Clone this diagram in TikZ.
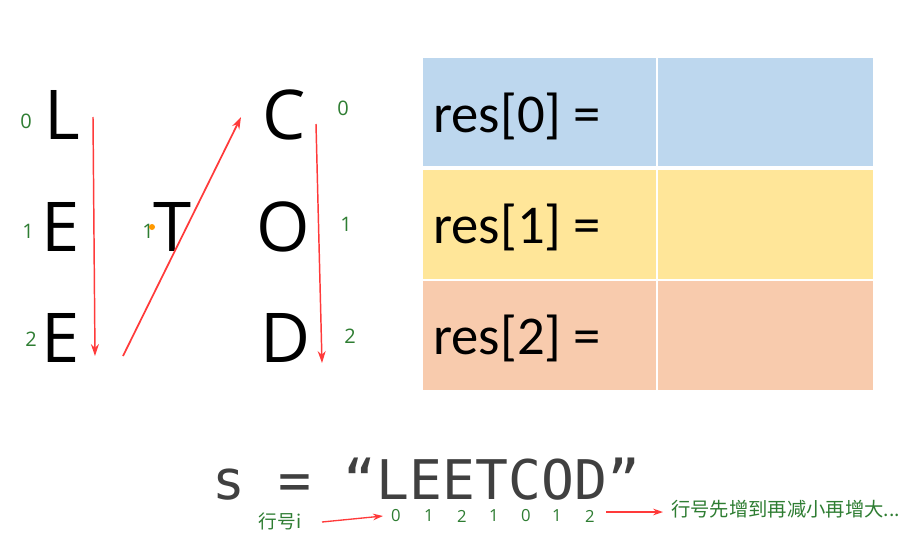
\documentclass[tikz,border=0pt]{standalone}
\usepackage{fontspec}
\setmainfont{Open Sans}
\newfontfamily\calib{Carlito}
\newfontfamily\monof{DejaVu Sans Mono}
\newfontfamily\cjk{Noto Sans CJK SC}
\usetikzlibrary{arrows.meta}
\definecolor{gidx}{RGB}{46,125,50}
\definecolor{redarr}{RGB}{255,58,58}
\definecolor{cblue}{HTML}{BDD7EE}
\definecolor{cyellow}{HTML}{FFE699}
\definecolor{corange}{HTML}{F8CBAD}
\definecolor{graytxt}{RGB}{64,64,64}
\tikzset{
  letter/.style={inner sep=0pt, anchor=base, font=\fontsize{51.5pt}{52pt}\selectfont},
  idx/.style={inner sep=0pt, text=gidx, font=\fontsize{15pt}{16pt}\selectfont},
  small idx/.style={inner sep=0pt, text=gidx, font=\fontsize{12.5pt}{13pt}\selectfont},
  cjktext/.style={inner sep=0pt, text=gidx},
  redline/.style={draw=redarr, line width=1.3pt, -{Stealth[length=9pt,width=6pt]}},
  thinred/.style={draw=redarr, line width=1pt, -{Stealth[length=7.5pt,width=5pt]}},
  reslabel/.style={inner sep=0pt, anchor=base west, font=\calib\fontsize{41pt}{42pt}\selectfont}
}
\begin{document}
\begin{tikzpicture}[x=0.75pt, y=-0.75pt]
\useasboundingbox (0,0) rectangle (922,553);
\fill[white] (0,0) rectangle (922,553);

% zigzag letters
\node[letter] (L)  at (62,139) {L};
\node[letter] (E1) at (61,251) {E};
\node[letter] (E2) at (61,362) {E};
\node[letter] (T)  at (172,251) {T};
\node[letter] (C)  at (284,139) {C};
\node[letter] (O)  at (283,251) {O};
\node[letter] (D)  at (286,362) {D};

% row indices
\node[idx] (i0a) at (26,121) {0};
\node[idx] (i1a) at (28,231) {1};
\node[idx] (i2a) at (31,339) {2};
\node[idx] (i1b) at (148,231) {1};
\fill[orange!80!yellow] (152,227) circle (3);
\node[idx] (i0c) at (343,108) {0};
\node[idx] (i1c) at (346,224) {1};
\node[idx] (i2c) at (350,336) {2};

% arrows
\coordinate (a1s) at (93,117);
\coordinate (a1e) at (95,356);
\coordinate (a2s) at (123,356);
\coordinate (a2e) at (241,117);
\coordinate (a3s) at (316,124);
\coordinate (a3e) at (322,363);
\draw[redline, line width=1.1pt] (a1s) -- (a1e);
\draw[redline] (a2s) -- (a2e);
\draw[redline, line width=1.1pt] (a3s) -- (a3e);

% table
\fill[cblue]   (423,58)  rectangle (657,167);
\fill[cblue]   (657,58)  rectangle (873,167);
\fill[cyellow] (423,169) rectangle (657,280);
\fill[cyellow] (657,169) rectangle (873,280);
\fill[corange] (423,280) rectangle (657,390);
\fill[corange] (657,280) rectangle (873,390);
\draw[white, line width=1.5pt] (657,58) -- (657,390);
\draw[white, line width=3pt] (423,168) -- (873,168);
\draw[white, line width=1.5pt] (423,280) -- (873,280);
\node[reslabel] (r0) at (433,132) {res[0] =};
\node[reslabel] (r1) at (433,243) {res[1] =};
\node[reslabel] (r2) at (433,354) {res[2] =};

% string
\node[inner sep=0pt, anchor=base west, text depth=0pt, text=graytxt, font=\monof\fontsize{41pt}{42pt}\selectfont] (s) at (212,499) {s = “LEETCOD”};

% index digits under the string
\node[small idx] (d1) at (396,516) {0};
\node[small idx] (d2) at (429,516) {1};
\node[small idx] (d3) at (462,516) {2};
\node[small idx] (d4) at (494,516) {1};
\node[small idx] (d5) at (526,516) {0};
\node[small idx] (d6) at (557,516) {1};
\node[small idx] (d7) at (590,516) {2};

\node[cjktext, font=\cjk\fontsize{14pt}{15pt}\selectfont] (hh) at (280,521) {行号i};
\node[cjktext, anchor=west, font=\cjk\fontsize{14.5pt}{15pt}\selectfont] (note) at (671,509) {行号先增到再减小再增大...};

\coordinate (b1s) at (322,522);
\coordinate (b1e) at (383,516);
\coordinate (b2s) at (606,512);
\coordinate (b2e) at (663,512);
\draw[thinred] (b1s) -- (b1e);
\draw[thinred] (b2s) -- (b2e);
\end{tikzpicture}
\end{document}
